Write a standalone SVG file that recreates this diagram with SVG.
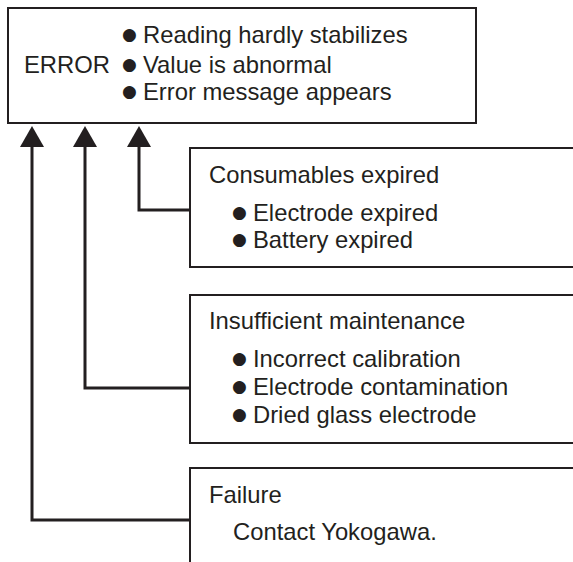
<svg xmlns="http://www.w3.org/2000/svg" width="573" height="562" viewBox="0 0 573 562">
<style>
  .box { fill: #ffffff; stroke: #231f20; stroke-width: 2; }
  .conn { fill: none; stroke: #231f20; stroke-width: 3; }
  text { font-family: "Liberation Sans", Arial, sans-serif; font-size: 23.8px; fill: #231f20; }
  .b { font-family: "DejaVu Sans", sans-serif; font-size: 17px; }
</style>
<defs>
  <marker id="arrow" markerUnits="userSpaceOnUse" markerWidth="22" markerHeight="24" viewBox="0 0 22 24" refX="0" refY="12" orient="auto">
    <path d="M0,0 L21,12 L0,24 Z" fill="#231f20"/>
  </marker>
</defs>
<rect width="573" height="562" fill="#ffffff"/>
<g id="connectors">
  <path class="conn" d="M190,210 H139 V147" marker-end="url(#arrow)"/>
  <path class="conn" d="M190,388 H85 V147" marker-end="url(#arrow)"/>
  <path class="conn" d="M190,520 H32 V147" marker-end="url(#arrow)"/>
</g>
<g id="error">
  <rect class="box" x="8" y="8" width="468" height="115"/>
  <text x="24" y="73">ERROR</text>
  <text><tspan class="b" x="122" y="40">●</tspan><tspan x="143" y="43">Reading hardly stabilizes</tspan></text>
  <text><tspan class="b" x="122" y="70">●</tspan><tspan x="143" y="73">Value is abnormal</tspan></text>
  <text><tspan class="b" x="122" y="97">●</tspan><tspan x="143" y="100">Error message appears</tspan></text>
</g>
<g id="consumables">
  <rect class="box" x="190" y="148" width="420" height="119"/>
  <text x="209" y="183">Consumables expired</text>
  <text><tspan class="b" x="232" y="218">●</tspan><tspan x="253" y="221">Electrode expired</tspan></text>
  <text><tspan class="b" x="232" y="245">●</tspan><tspan x="253" y="248">Battery expired</tspan></text>
</g>
<g id="maintenance">
  <rect class="box" x="190" y="295" width="420" height="148"/>
  <text x="209" y="329">Insufficient maintenance</text>
  <text><tspan class="b" x="232" y="364">●</tspan><tspan x="253" y="367">Incorrect calibration</tspan></text>
  <text><tspan class="b" x="232" y="392">●</tspan><tspan x="253" y="395">Electrode contamination</tspan></text>
  <text><tspan class="b" x="232" y="420">●</tspan><tspan x="253" y="423">Dried glass electrode</tspan></text>
</g>
<g id="failure">
  <rect class="box" x="190" y="468" width="420" height="140"/>
  <text x="209" y="503">Failure</text>
  <text x="233" y="540">Contact Yokogawa.</text>
</g>
</svg>
